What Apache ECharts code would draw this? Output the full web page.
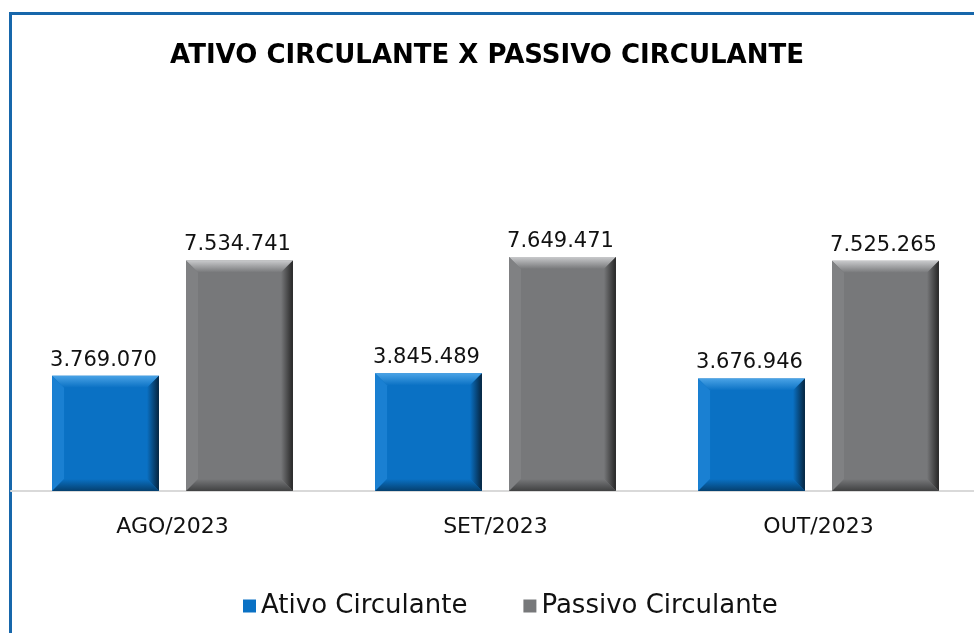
<!DOCTYPE html>
<html>
<head>
<meta charset="utf-8">
<script src="https://cdn.jsdelivr.net/npm/echarts@6/dist/echarts.min.js"></script>
<style>
  html, body { margin: 0; padding: 0; background: #fff; }
  #frame { position: absolute; left: 9px; top: 12px; width: 1000px; height: 700px;
           border-left: 3px solid #1767ab; border-top: 3px solid #1767ab; }
  #chart { position: absolute; left: 0; top: 0; width: 974px; height: 633px; }
</style>
</head>
<body>
<div id="frame"></div>
<div id="chart"></div>
<script>
const months = ["AGO/2023", "SET/2023", "OUT/2023"];
const ativo = [3769070, 3845489, 3676946];
const passivo = [7534741, 7649471, 7525265];

const FONT = "DejaVu Sans";

const bluePal = { face: "#0a71c4", top: "#4aa3e6", left: "#1a80d2", right: "#06243e", bottom: "#05406f" };
const grayPal = { face: "#77787a", top: "#c9cacc", left: "#808183", right: "#262626", bottom: "#404142" };

function fmt(n) {
  return String(n).replace(/\B(?=(\d{3})+(?!\d))/g, ".");
}

function grad(x2, y2, a, b) {
  return new echarts.graphic.LinearGradient(0, 0, x2, y2, [
    { offset: 0, color: a },
    { offset: 1, color: b }
  ]);
}

// bar with bevelled edges, placed side by side inside the category band
function bevelBar(side, pal) {
  return function (params, api) {
    const top = api.coord([api.value(0), api.value(1)]);
    const base = api.coord([api.value(0), 0]);
    const band = api.size([1, 0])[0];
    const w = band * 0.331;
    const cx = top[0] + side * band * 0.2074;
    const x0 = cx - w / 2, x1 = cx + w / 2, y0 = top[1], y1 = base[1];
    const b = Math.min(12, (y1 - y0) / 2, w / 2);
    return {
      type: "group",
      children: [
        { type: "rect", shape: { x: x0, y: y0, width: w, height: y1 - y0 }, style: { fill: pal.face } },
        { type: "polygon", shape: { points: [[x0, y0], [x1, y0], [x1 - b, y0 + b], [x0 + b, y0 + b]] },
          style: { fill: grad(0, 1, pal.top, pal.face) } },
        { type: "polygon", shape: { points: [[x0, y0], [x0 + b, y0 + b], [x0 + b, y1 - b], [x0, y1]] },
          style: { fill: pal.left } },
        { type: "polygon", shape: { points: [[x1, y0], [x1, y1], [x1 - b, y1 - b], [x1 - b, y0 + b]] },
          style: { fill: grad(1, 0, pal.face, pal.right) } },
        { type: "polygon", shape: { points: [[x0, y1], [x0 + b, y1 - b], [x1 - b, y1 - b], [x1, y1]] },
          style: { fill: grad(0, 1, pal.face, pal.bottom) } },
        { type: "text", style: { x: cx - 2, y: y0 - 5, text: fmt(api.value(1)), align: "center",
          verticalAlign: "bottom", fontSize: 21, fontFamily: FONT, fill: "#111" } }
      ]
    };
  };
}

const chart = echarts.init(document.getElementById("chart"), null, { renderer: "canvas" });
chart.setOption({
  animation: false,
  title: {
    text: "ATIVO CIRCULANTE X PASSIVO CIRCULANTE",
    left: "center",
    top: 38,
    textStyle: { fontFamily: FONT, fontWeight: "bold", fontSize: 26, color: "#000" }
  },
  legend: {
    top: 588,
    left: 238,
    icon: "rect",
    itemWidth: 13,
    itemHeight: 13,
    itemGap: 56,
    textStyle: { fontFamily: FONT, fontSize: 26, color: "#111" },
    data: ["Ativo Circulante", "Passivo Circulante"]
  },
  grid: { left: 11, width: 969, top: 185, height: 306, outerBoundsMode: "none" },
  xAxis: {
    type: "category",
    data: months,
    axisTick: { show: false },
    axisLine: { lineStyle: { color: "#d9d9d9", width: 2 } },
    axisLabel: { fontFamily: FONT, fontSize: 22, color: "#111", margin: 25 }
  },
  yAxis: { type: "value", min: 0, max: 10000000, show: false },
  series: [
    { name: "Ativo Circulante", type: "custom", renderItem: bevelBar(-1, bluePal),
      itemStyle: { color: bluePal.face }, encode: { x: 0, y: 1 },
      data: months.map((m, i) => [i, ativo[i]]) },
    { name: "Passivo Circulante", type: "custom", renderItem: bevelBar(1, grayPal),
      itemStyle: { color: grayPal.face }, encode: { x: 0, y: 1 },
      data: months.map((m, i) => [i, passivo[i]]) }
  ]
});
</script>
</body>
</html>
